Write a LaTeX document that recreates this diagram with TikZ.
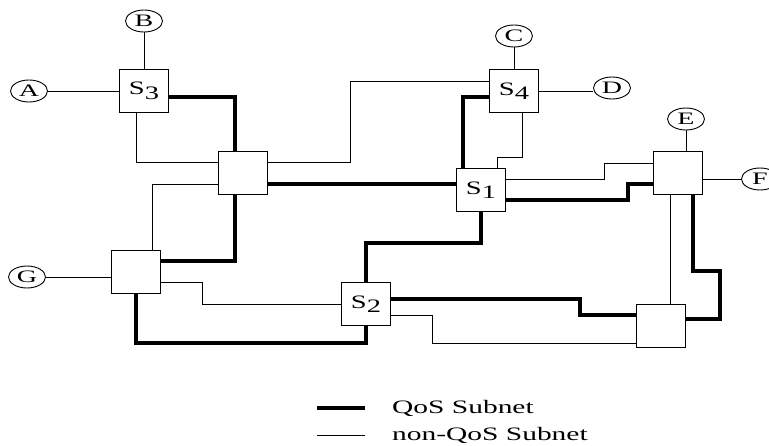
\documentclass[tikz,border=0pt]{standalone}
\usepackage{graphicx}
\usepackage{fontspec}
\setmainfont{Liberation Serif}
\usepackage{tikz}
\usetikzlibrary{shapes.geometric,calc,positioning}

\newcommand{\swname}[1]{\scalebox{1.5}[1]{S\raisebox{-4.5pt}{#1}}}
\newcommand{\hostname}[1]{\scalebox{1.6}[1]{#1}}

\begin{document}
\begin{tikzpicture}[x=1pt,y=-1pt,
  sw/.style={draw,line width=0.9pt,fill=white,minimum width=49pt,minimum height=43pt,inner sep=0pt,font=\fontsize{19}{21}\selectfont},
  host/.style={draw,ellipse,line width=0.9pt,minimum width=37pt,minimum height=22pt,inner sep=0pt,font=\fontsize{17.5}{19}\selectfont},
  qos/.style={line width=3.6pt},
  plain/.style={line width=0.9pt},
  legend/.style={anchor=west,inner sep=0pt,font=\fontsize{19}{21}\selectfont}]
  \useasboundingbox (0,0) rectangle (769,445);
  % switches
  \node[sw] (S3) at (144,91) {\swname{3}};
  \node[sw] (S4) at (514,91) {\swname{4}};
  \node[sw] (S1) at (481,190) {\swname{1}};
  \node[sw] (S2) at (366,304) {\swname{2}};
  \node[sw] (r1) at (243,173) {};
  \node[sw] (r2) at (136,272) {};
  \node[sw] (r3) at (678,173) {};
  \node[sw] (r4) at (661,326) {};
  % hosts
  \node[host] (A) at (29,91) {\hostname{A}};
  \node[host] (B) at (144,21) {\hostname{B}};
  \node[host] (C) at (514,36) {\hostname{C}};
  \node[host] (D) at (612,88) {\hostname{D}};
  \node[host] (E) at (686,119) {\hostname{E}};
  \node[host] (F) at (760,179) {\hostname{F}};
  \node[host] (G) at (27,277) {\hostname{G}};
  % host links
  \draw[plain] (A) -- (S3.west);
  \draw[plain] (B) -- (S3.north);
  \draw[plain] (C) -- (S4.north);
  \draw[plain] (S4.east) -- (S4.east -| D.west);
  \draw[plain] (E) -- (E.south |- r3.north);
  \draw[plain] (r3.east |- F.west) -- (F.west);
  \draw[plain] (G) -- (G.east -| r2.west);
  % non-QoS subnet
  \draw[plain] ($(S3.south)+(-8,0)$) |- ($(r1.west)+(0,-11)$);
  \draw[plain] ($(r1.east)+(0,-11)$) -- ++(82,0) |- ($(S4.west)+(0,-10)$);
  \draw[plain] ($(r1.west)+(0,11)$) -| ($(r2.north)+(16,0)$);
  \draw[plain] ($(r2.east)+(0,10)$) -- ++(41,0) |- (S2.west);
  \draw[plain] ($(S4.south)+(8,0)$) -- ++(0,44.5) -| ($(S1.north)+(16,0)$);
  \draw[plain] ($(S1.east)+(0,-11)$) -- ++(98,0) |- ($(r3.west)+(0,-10)$);
  \draw[plain] ($(r3.south)+(-8,0)$) coordinate (t) -- (t |- r4.north);
  \draw[plain] ($(S2.east)+(0,11)$) -- ++(41,0) |- ($(r4.west)+(0,17)$);
  % QoS subnet
  \draw[qos] ($(S3.east)+(0,6)$) -| ($(r1.north)+(-8,0)$);
  \draw[qos] ($(r1.east)+(0,11)$) -- ($(S1.west)+(0,-6)$);
  \draw[qos] ($(S4.west)+(0,6)$) -| ($(S1.north)+(-18,0)$);
  \draw[qos] ($(r1.south)+(-8,0)$) |- ($(r2.east)+(0,-11)$);
  \draw[qos] (r2.south) |- ($(S2.south)+(0,17)$) -- (S2.south);
  \draw[qos] (S1.south) -- ++(0,31) -| (S2.north);
  \draw[qos] ($(S1.east)+(0,10)$) -- ++(122,0) |- ($(r3.west)+(0,11)$);
  \draw[qos] ($(r3.south)+(15,0)$) -- ++(0,76) -- ++(27,0) |- ($(r4.east)+(0,-7)$);
  \draw[qos] ($(S2.east)+(0,-5)$) -- ++(189,0) |- ($(r4.west)+(0,-11)$);
  % legend
  \node[legend] (lq) at (392,408) {\scalebox{1.55}[1]{QoS Subnet}};
  \node[legend] (ln) at (392,435) {\scalebox{1.55}[1]{non-QoS Subnet}};
  \coordinate (lq1) at (317,408);
  \coordinate (ln1) at (317,435);
  \draw[qos] (lq1) -- ++(48,0);
  \draw[plain] (ln1) -- ++(48,0);
\end{tikzpicture}
\end{document}
